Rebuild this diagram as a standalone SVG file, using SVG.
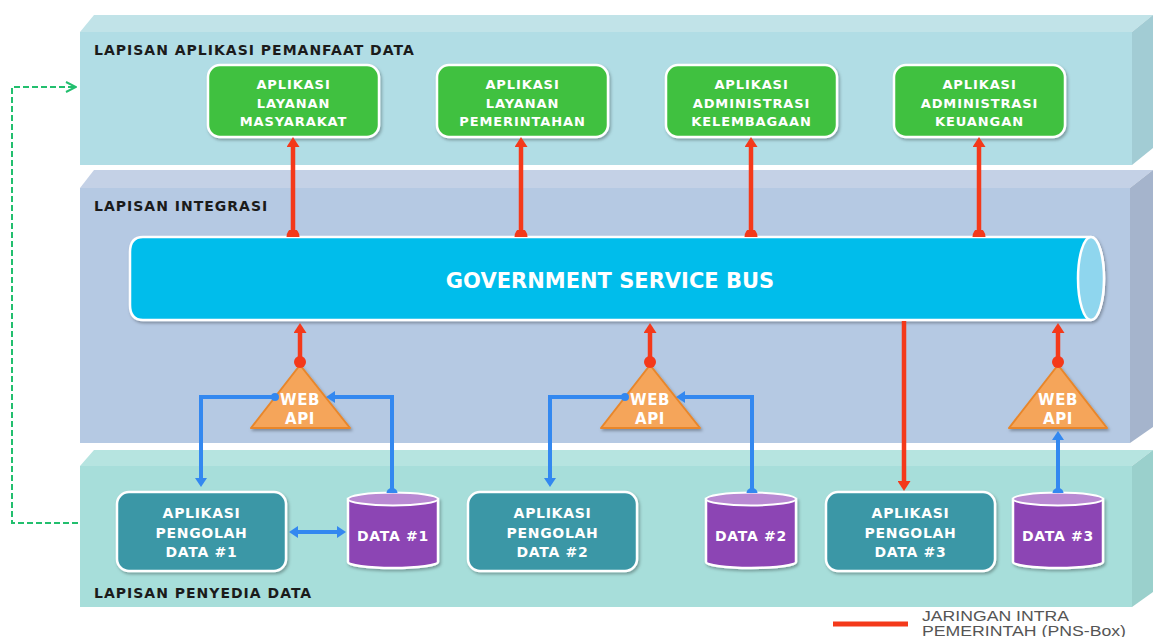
<svg xmlns="http://www.w3.org/2000/svg" width="1153" height="637" viewBox="0 0 1153 637">
<style>
.lbl{font-family:"DejaVu Sans","Liberation Sans",sans-serif;font-weight:bold;font-size:14px;fill:#1b1b1b;letter-spacing:1px}
.nt{font-family:"DejaVu Sans","Liberation Sans",sans-serif;font-weight:bold;font-size:13px;fill:#ffffff;text-anchor:middle;letter-spacing:0.9px}
.nt14{font-size:14px;letter-spacing:0.7px}
.api{font-size:15px;letter-spacing:0.6px}
.green{fill:#41c13f;stroke:#ffffff;stroke-width:2.5}
.teal{fill:#3a97a6;stroke:#ffffff;stroke-width:2.5}
.cyl{fill:#8c44b4;stroke:#ffffff;stroke-width:2.5}
.cyltop{fill:#b98ad3;stroke:#ffffff;stroke-width:2}
.tri{fill:#f5a55a;stroke:#e8862a;stroke-width:2;stroke-linejoin:round}
.red{fill:none;stroke:#f4391a;stroke-width:4.5}
.blue{fill:none;stroke:#3388f0;stroke-width:4}
.dash{fill:none;stroke:#22bf6e;stroke-width:2;stroke-dasharray:6 3}
.leg{font-family:"Liberation Sans","DejaVu Sans",sans-serif;font-size:14px;fill:#555555}
</style>
<defs>
<filter id="sh" x="-10%" y="-10%" width="125%" height="130%">
<feDropShadow dx="1.5" dy="2" stdDeviation="1.5" flood-color="#000" flood-opacity="0.3"/>
</filter>
<marker id="rh" viewBox="0 0 10 13" refX="1" refY="6.5" markerWidth="10" markerHeight="13" markerUnits="userSpaceOnUse" orient="auto" preserveAspectRatio="none">
<path d="M0,0 L10,6.5 L0,13 Z" fill="#f4391a"/>
</marker>
<marker id="rdot" viewBox="-7 -7 14 14" refX="0" refY="0" markerWidth="14" markerHeight="14" markerUnits="userSpaceOnUse" orient="auto">
<circle r="6" fill="#f4391a"/>
</marker>
<marker id="rfoot" viewBox="-1 -7 8 14" refX="0" refY="0" markerWidth="8" markerHeight="14" markerUnits="userSpaceOnUse" orient="auto">
<path d="M0,-6.5 A6.5,5 0 0 1 0,6.5 Z" fill="#f4391a"/>
</marker>
<marker id="bh" viewBox="0 0 9 12" refX="1" refY="6" markerWidth="9" markerHeight="12" markerUnits="userSpaceOnUse" orient="auto-start-reverse" preserveAspectRatio="none">
<path d="M0,0 L9,6 L0,12 Z" fill="#3388f0"/>
</marker>
<marker id="bdot" viewBox="-5 -5 10 10" refX="0" refY="0" markerWidth="10" markerHeight="10" markerUnits="userSpaceOnUse" orient="auto">
<circle r="4" fill="#3388f0"/>
</marker>
<marker id="bfoot" viewBox="-1 -6 7 12" refX="0" refY="0" markerWidth="7" markerHeight="12" markerUnits="userSpaceOnUse" orient="auto">
<path d="M0,-5.5 A5,5.5 0 0 1 0,5.5 Z" fill="#3388f0"/>
</marker>
<marker id="gch" viewBox="0 0 12 12" refX="11" refY="6" markerWidth="12" markerHeight="12" markerUnits="userSpaceOnUse" orient="auto">
<path d="M1,1 L11,6 L1,11" fill="none" stroke="#22bf6e" stroke-width="2"/>
</marker>
</defs>
<rect width="1153" height="637" fill="#ffffff"/>

<g id="layer-aplikasi">
<polygon points="80,32 94,15 1153,15 1132,32" fill="#c1e3e8"/>
<polygon points="1132,32 1153,15 1153,148 1132,165" fill="#a2ccd4"/>
<rect x="80" y="32" width="1052" height="133" fill="#b1dde5"/>
<text class="lbl" x="94" y="55">LAPISAN APLIKASI PEMANFAAT DATA</text>
</g>
<g id="layer-integrasi">
<polygon points="80,188 94,170 1153,170 1130,188" fill="#c4d1e6"/>
<polygon points="1130,188 1153,170 1153,427 1130,443" fill="#a5b4cc"/>
<rect x="80" y="188" width="1050" height="255" fill="#b5c9e3"/>
<text class="lbl" x="94" y="211">LAPISAN INTEGRASI</text>
</g>
<g id="layer-penyedia">
<polygon points="80,466 94,450 1153,450 1132,466" fill="#b6e4e0"/>
<polygon points="1132,466 1153,450 1153,592 1132,607" fill="#9ad0cc"/>
<rect x="80" y="466" width="1052" height="141" fill="#a7deda"/>
<text class="lbl" x="94" y="598">LAPISAN PENYEDIA DATA</text>
</g>

<g id="app-masyarakat">
<rect class="green" x="208" y="65" width="171" height="72" rx="12" filter="url(#sh)"/>
<text class="nt" x="293.5" y="89">APLIKASI</text>
<text class="nt" x="293.5" y="107.5">LAYANAN</text>
<text class="nt" x="293.5" y="126">MASYARAKAT</text>
</g>
<g id="app-pemerintahan">
<rect class="green" x="437" y="65" width="171" height="72" rx="12" filter="url(#sh)"/>
<text class="nt" x="522.5" y="89">APLIKASI</text>
<text class="nt" x="522.5" y="107.5">LAYANAN</text>
<text class="nt" x="522.5" y="126">PEMERINTAHAN</text>
</g>
<g id="app-kelembagaan">
<rect class="green" x="666" y="65" width="171" height="72" rx="12" filter="url(#sh)"/>
<text class="nt" x="751.5" y="89">APLIKASI</text>
<text class="nt" x="751.5" y="107.5">ADMINISTRASI</text>
<text class="nt" x="751.5" y="126">KELEMBAGAAN</text>
</g>
<g id="app-keuangan">
<rect class="green" x="894" y="65" width="171" height="72" rx="12" filter="url(#sh)"/>
<text class="nt" x="979.5" y="89">APLIKASI</text>
<text class="nt" x="979.5" y="107.5">ADMINISTRASI</text>
<text class="nt" x="979.5" y="126">KEUANGAN</text>
</g>

<g id="gsb">
<path d="M143,237 H1091 A13,41.5 0 0 1 1091,320 H143 Q130,320 130,305 V252 Q130,237 143,237 Z" fill="#05bdeb" stroke="#ffffff" stroke-width="2.5" filter="url(#sh)"/>
<ellipse cx="1091" cy="278.5" rx="13" ry="41.5" fill="#8fd6ee" stroke="#ffffff" stroke-width="2.5"/>
<text class="nt" x="610" y="288" style="font-size:21px;letter-spacing:0px">GOVERNMENT SERVICE BUS</text>
</g>

<g id="webapi-1">
<polygon class="tri" points="300,365 251,428 350,428" filter="url(#sh)"/>
<text class="nt api" x="300" y="405">WEB</text>
<text class="nt api" x="300" y="424">API</text>
</g>
<g id="webapi-2">
<polygon class="tri" points="650,365 601,428 700,428" filter="url(#sh)"/>
<text class="nt api" x="650" y="405">WEB</text>
<text class="nt api" x="650" y="424">API</text>
</g>
<g id="webapi-3">
<polygon class="tri" points="1058,365 1009,428 1107,428" filter="url(#sh)"/>
<text class="nt api" x="1058" y="405">WEB</text>
<text class="nt api" x="1058" y="424">API</text>
</g>

<g id="pengolah-1">
<rect class="teal" x="117" y="492" width="169" height="79" rx="12" filter="url(#sh)"/>
<text class="nt nt14" x="201.5" y="518">APLIKASI</text>
<text class="nt nt14" x="201.5" y="538">PENGOLAH</text>
<text class="nt nt14" x="201.5" y="557">DATA #1</text>
</g>
<g id="data-1">
<path class="cyl" d="M348,499 V562 A45,6 0 0 0 438,562 V499 Z" filter="url(#sh)"/>
<ellipse class="cyltop" cx="393" cy="499" rx="45" ry="6.5"/>
<text class="nt nt14" x="393" y="541">DATA #1</text>
</g>
<g id="pengolah-2">
<rect class="teal" x="468" y="492" width="169" height="79" rx="12" filter="url(#sh)"/>
<text class="nt nt14" x="552.5" y="518">APLIKASI</text>
<text class="nt nt14" x="552.5" y="538">PENGOLAH</text>
<text class="nt nt14" x="552.5" y="557">DATA #2</text>
</g>
<g id="data-2">
<path class="cyl" d="M706,499 V562 A45,6 0 0 0 796,562 V499 Z" filter="url(#sh)"/>
<ellipse class="cyltop" cx="751" cy="499" rx="45" ry="6.5"/>
<text class="nt nt14" x="751" y="541">DATA #2</text>
</g>
<g id="pengolah-3">
<rect class="teal" x="826" y="492" width="169" height="79" rx="12" filter="url(#sh)"/>
<text class="nt nt14" x="910.5" y="518">APLIKASI</text>
<text class="nt nt14" x="910.5" y="538">PENGOLAH</text>
<text class="nt nt14" x="910.5" y="557">DATA #3</text>
</g>
<g id="data-3">
<path class="cyl" d="M1013,499 V562 A45,6 0 0 0 1103,562 V499 Z" filter="url(#sh)"/>
<ellipse class="cyltop" cx="1058" cy="499" rx="45" ry="6.5"/>
<text class="nt nt14" x="1058" y="541">DATA #3</text>
</g>

<g id="connectors">
<path class="red" d="M293,237 V146" marker-start="url(#rfoot)" marker-end="url(#rh)"/>
<path class="red" d="M521,237 V146" marker-start="url(#rfoot)" marker-end="url(#rh)"/>
<path class="red" d="M751,237 V146" marker-start="url(#rfoot)" marker-end="url(#rh)"/>
<path class="red" d="M979,237 V146" marker-start="url(#rfoot)" marker-end="url(#rh)"/>
<path class="red" d="M300,362 V332" marker-start="url(#rdot)" marker-end="url(#rh)"/>
<path class="red" d="M650,362 V332" marker-start="url(#rdot)" marker-end="url(#rh)"/>
<path class="red" d="M1058,362 V332" marker-start="url(#rdot)" marker-end="url(#rh)"/>
<path class="red" d="M904,321 V482" marker-end="url(#rh)"/>
<path class="blue" d="M275,397 H201 V479" marker-start="url(#bdot)" marker-end="url(#bh)"/>
<path class="blue" d="M392,493 V397 H334" marker-start="url(#bfoot)" marker-end="url(#bh)"/>
<path class="blue" d="M625,397 H550 V479" marker-start="url(#bdot)" marker-end="url(#bh)"/>
<path class="blue" d="M752,493 V397 H684" marker-start="url(#bfoot)" marker-end="url(#bh)"/>
<path class="blue" d="M1058,493 V439" marker-start="url(#bfoot)" marker-end="url(#bh)"/>
<path class="blue" d="M297,532 H338" marker-start="url(#bh)" marker-end="url(#bh)"/>
<path class="dash" d="M78,523 H12 V87 H76" marker-end="url(#gch)"/>
</g>

<g id="legend">
<rect x="833" y="621.5" width="75" height="5" fill="#f4391a"/>
<text class="leg" x="922" y="621" textLength="147" lengthAdjust="spacingAndGlyphs">JARINGAN INTRA</text>
<text class="leg" x="922" y="636" textLength="204" lengthAdjust="spacingAndGlyphs">PEMERINTAH (PNS-Box)</text>
</g>
</svg>
